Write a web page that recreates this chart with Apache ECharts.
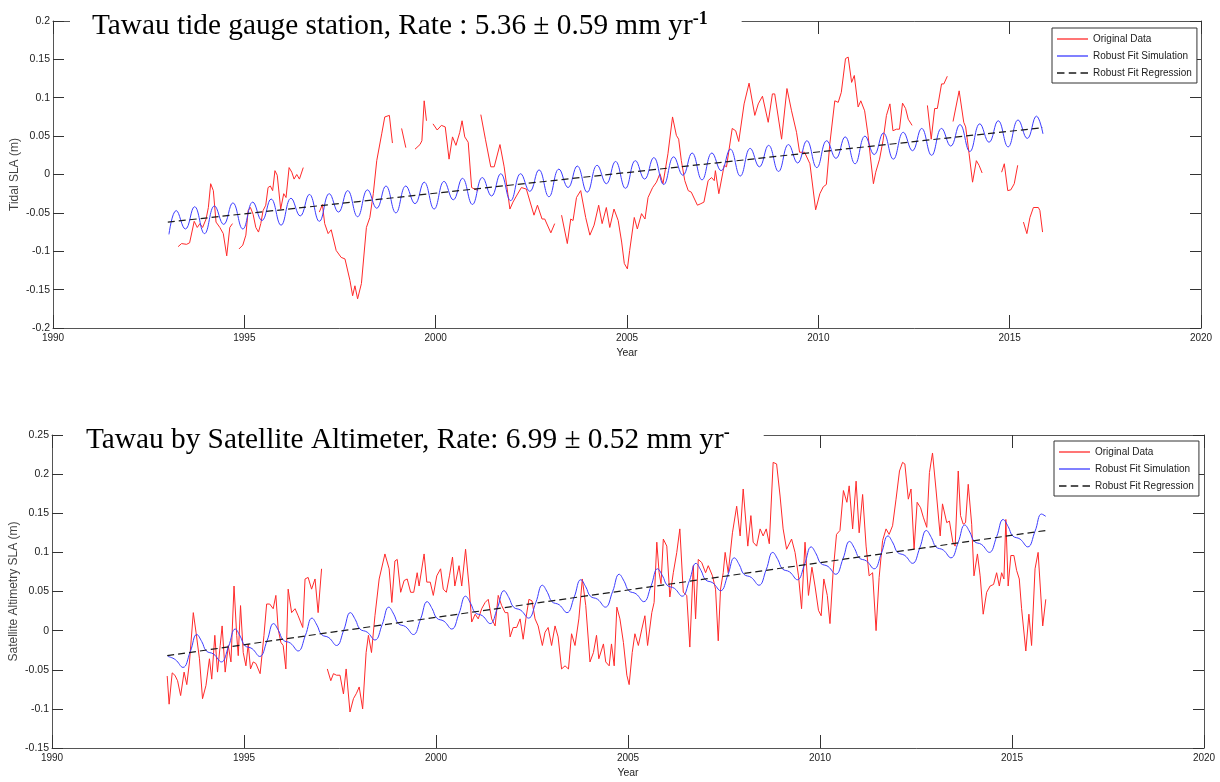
<!DOCTYPE html>
<html>
<head>
<meta charset="utf-8">
<script src="https://cdn.jsdelivr.net/npm/echarts@6/dist/echarts.min.js"></script>
<style>
  html, body { margin: 0; padding: 0; background: #fff; }
  #chart { width: 1220px; height: 782px; }
</style>
</head>
<body>
<div id="chart"></div>
<script>
// ---- Tawau sea level: tide gauge (top) and satellite altimetry (bottom) ----

const seriesNames = ['Original Data', 'Robust Fit Simulation', 'Robust Fit Regression'];
const yearTicks = { min: 1990, max: 2020, step: 5 };
const tideRange = { min: -0.2, max: 0.2, step: 0.05 };
const altRange = { min: -0.15, max: 0.25, step: 0.05 };

// Tide gauge monthly SLA (m); null marks missing records
const tideObserved = [
  [1993.01, -0.110], null,
  [1993.13, -0.100], null,
  [1993.27, -0.094], [1993.36, -0.090], [1993.49, -0.091], [1993.57, -0.089], [1993.69, -0.061],
  [1993.77, -0.069], [1993.84, -0.064], [1993.91, -0.069], [1994.00, -0.058], [1994.06, -0.043],
  [1994.12, -0.012], [1994.19, -0.021], [1994.26, -0.062], [1994.36, -0.069], [1994.45, -0.077],
  [1994.54, -0.106], [1994.62, -0.069], [1994.69, -0.064], null,
  [1994.86, -0.097], [1994.96, -0.092], [1995.04, -0.079], [1995.10, -0.047], [1995.16, -0.043],
  [1995.23, -0.052], [1995.30, -0.069], [1995.37, -0.075], [1995.43, -0.064], [1995.49, -0.047],
  [1995.56, -0.040], [1995.62, -0.017], [1995.68, -0.015], [1995.74, -0.021], [1995.80, 0.005],
  [1995.86, -0.001], [1995.95, -0.045], [1996.03, -0.025], [1996.09, -0.030], [1996.17, 0.009],
  [1996.24, 0.003], [1996.30, -0.006], [1996.37, 0.000], [1996.44, -0.006], [1996.54, 0.009], null,
  [1996.96, -0.049], [1997.04, -0.039], [1997.10, -0.064], [1997.19, -0.077], [1997.27, -0.072],
  [1997.40, -0.099], [1997.53, -0.108], [1997.63, -0.110], [1997.76, -0.138], [1997.83, -0.158],
  [1997.89, -0.145], [1997.96, -0.162], [1998.06, -0.142], [1998.19, -0.069], [1998.28, -0.056],
  [1998.37, -0.025], [1998.46, 0.018], [1998.59, 0.053], [1998.67, 0.075], [1998.79, 0.077],
  [1998.87, 0.041], null,
  [1999.11, 0.060], [1999.22, 0.035], null,
  [1999.46, 0.033], [1999.59, 0.039], [1999.64, 0.044], [1999.70, 0.096], [1999.76, 0.070], null,
  [1999.93, 0.066], [2000.04, 0.058], [2000.15, 0.064], [2000.25, 0.062], [2000.35, 0.020],
  [2000.44, 0.049], [2000.53, 0.038], [2000.63, 0.055], [2000.69, 0.070], [2000.76, 0.049],
  [2000.85, 0.042], [2000.94, -0.017], [2001.02, -0.019], [2001.11, -0.021], null,
  [2001.18, 0.078], [2001.30, 0.046], [2001.44, 0.010], [2001.53, 0.010], [2001.68, 0.039],
  [2001.79, 0.010], [2001.94, -0.045], [2002.02, -0.036], [2002.11, -0.028], [2002.24, -0.017],
  [2002.37, -0.019], [2002.57, -0.053], [2002.66, -0.040], [2002.78, -0.058], [2002.85, -0.058],
  [2003.01, -0.076], [2003.11, -0.064], null,
  [2003.29, -0.053], [2003.44, -0.090], [2003.53, -0.058], [2003.59, -0.060], [2003.68, -0.030],
  [2003.79, -0.021], [2003.92, -0.056], [2004.03, -0.079], [2004.14, -0.066], [2004.26, -0.040],
  [2004.35, -0.064], [2004.46, -0.043], [2004.55, -0.069], [2004.66, -0.045], [2004.77, -0.060],
  [2004.86, -0.088], [2004.93, -0.116], [2005.01, -0.123], [2005.07, -0.099], [2005.19, -0.056],
  [2005.27, -0.071], [2005.38, -0.051], [2005.47, -0.058], [2005.55, -0.030], [2005.67, -0.017],
  [2005.77, -0.010], [2005.86, 0.001], [2005.94, -0.012], [2006.07, 0.027], [2006.19, 0.075],
  [2006.29, 0.051], [2006.35, 0.046], [2006.42, 0.018], [2006.51, -0.008], [2006.60, -0.021],
  [2006.68, -0.023], [2006.84, -0.040], [2006.93, -0.038], [2007.01, -0.036], [2007.12, -0.008],
  [2007.21, -0.004], [2007.28, -0.008], [2007.31, 0.005], [2007.40, -0.025], [2007.44, -0.027],
  [2007.54, 0.012], [2007.60, 0.010], [2007.75, 0.060], [2007.84, 0.057], [2007.92, 0.043],
  [2008.06, 0.092], [2008.19, 0.119], [2008.34, 0.077], [2008.43, 0.092], [2008.54, 0.102],
  [2008.69, 0.068], [2008.80, 0.105], [2008.86, 0.105], [2009.04, 0.046], [2009.18, 0.112],
  [2009.30, 0.083], [2009.43, 0.055], [2009.51, 0.029], [2009.64, 0.029], [2009.78, 0.014],
  [2009.93, -0.046], [2010.04, -0.025], [2010.13, -0.016], [2010.21, -0.013], [2010.30, 0.040],
  [2010.43, 0.096], [2010.52, 0.094], [2010.60, 0.107], [2010.71, 0.151], [2010.78, 0.153],
  [2010.87, 0.120], [2010.94, 0.129], [2011.04, 0.088], [2011.11, 0.096], [2011.21, 0.083],
  [2011.30, 0.051], [2011.36, 0.023], [2011.44, -0.012], [2011.50, 0.003], [2011.60, 0.020],
  [2011.69, 0.044], [2011.78, 0.077], [2011.87, 0.092], [2011.95, 0.057], [2012.04, 0.059],
  [2012.12, 0.059], [2012.20, 0.093], [2012.28, 0.086], [2012.35, 0.072], [2012.45, 0.064], null,
  [2012.85, 0.090], [2012.95, 0.046], [2013.04, 0.086], [2013.11, 0.086], [2013.22, 0.118],
  [2013.28, 0.118], [2013.37, 0.128], null,
  [2013.52, 0.069], [2013.68, 0.109], [2013.80, 0.068], [2013.85, 0.062], [2013.94, 0.027],
  [2014.03, -0.010], [2014.13, 0.018], [2014.20, 0.012], [2014.28, 0.002], null,
  [2014.79, 0.003], [2014.86, 0.014], [2014.95, -0.021], [2015.03, -0.020], [2015.12, -0.012],
  [2015.21, 0.012], null,
  [2015.36, -0.062], [2015.45, -0.077], [2015.53, -0.056], [2015.62, -0.043], [2015.75, -0.043],
  [2015.79, -0.047], [2015.86, -0.075]
];

// Tide gauge robust fit (trend + seasonal cycle), turning points
const tideFit = [
  [1993.03, -0.078],
  [1993.22, -0.047], [1993.46, -0.071], [1993.70, -0.042], [1993.96, -0.077],
  [1994.22, -0.041], [1994.46, -0.065], [1994.70, -0.037], [1994.96, -0.071],
  [1995.22, -0.036], [1995.46, -0.060], [1995.70, -0.032], [1995.96, -0.066],
  [1996.22, -0.031], [1996.46, -0.054], [1996.70, -0.026], [1996.96, -0.061],
  [1997.22, -0.025], [1997.46, -0.049], [1997.70, -0.021], [1997.96, -0.055],
  [1998.22, -0.020], [1998.46, -0.044], [1998.70, -0.015], [1998.96, -0.050],
  [1999.22, -0.015], [1999.46, -0.038], [1999.70, -0.010], [1999.96, -0.045],
  [2000.22, -0.009], [2000.46, -0.033], [2000.70, -0.005], [2000.96, -0.039],
  [2001.22, -0.004], [2001.46, -0.028], [2001.70, 0.001], [2001.96, -0.034],
  [2002.22, 0.001], [2002.46, -0.022], [2002.70, 0.006], [2002.96, -0.029],
  [2003.22, 0.007], [2003.46, -0.017], [2003.70, 0.011], [2003.96, -0.023],
  [2004.22, 0.012], [2004.46, -0.012], [2004.70, 0.017], [2004.96, -0.018],
  [2005.22, 0.018], [2005.46, -0.006], [2005.70, 0.022], [2005.96, -0.013],
  [2006.22, 0.023], [2006.46, -0.001], [2006.70, 0.028], [2006.96, -0.007],
  [2007.22, 0.028], [2007.46, 0.005], [2007.70, 0.033], [2007.96, -0.002],
  [2008.22, 0.034], [2008.46, 0.010], [2008.70, 0.038], [2008.96, 0.004],
  [2009.22, 0.039], [2009.46, 0.015], [2009.70, 0.044], [2009.96, 0.009],
  [2010.22, 0.044], [2010.46, 0.021], [2010.70, 0.049], [2010.96, 0.014],
  [2011.22, 0.050], [2011.46, 0.026], [2011.70, 0.054], [2011.96, 0.020],
  [2012.22, 0.055], [2012.46, 0.031], [2012.70, 0.060], [2012.96, 0.025],
  [2013.22, 0.060], [2013.46, 0.037], [2013.70, 0.065], [2013.96, 0.030],
  [2014.22, 0.066], [2014.46, 0.042], [2014.70, 0.070], [2014.96, 0.036],
  [2015.22, 0.071], [2015.46, 0.047], [2015.70, 0.076], [2015.87, 0.053]
];

// Tide gauge linear trend, 5.36 mm/yr
const tideTrend = [[1993.0, -0.062], [2015.87, 0.061]];

// Satellite altimetry monthly SLA (m)
const altObserved = [
  [1993.00, -0.058], [1993.05, -0.094], [1993.13, -0.054], [1993.20, -0.057], [1993.27, -0.064],
  [1993.35, -0.083], [1993.44, -0.053], [1993.51, -0.069], [1993.58, -0.040], [1993.68, 0.023],
  [1993.75, -0.002], [1993.84, -0.036], [1993.92, -0.087], [1994.01, -0.070], [1994.10, -0.036],
  [1994.16, -0.062], [1994.24, -0.006], [1994.31, -0.053], [1994.38, -0.019], [1994.43, 0.006],
  [1994.51, -0.053], [1994.59, -0.019], [1994.66, -0.040], [1994.74, 0.057], [1994.81, -0.006],
  [1994.85, -0.032], [1994.91, 0.032], [1994.98, -0.028], [1995.05, -0.045], [1995.11, -0.017],
  [1995.17, -0.049], [1995.24, -0.040], [1995.31, -0.042], [1995.42, -0.055], [1995.52, -0.006],
  [1995.59, 0.034], [1995.67, 0.034], [1995.76, 0.028], [1995.83, 0.045], [1995.89, 0.002],
  [1995.96, -0.015], [1996.02, -0.019], [1996.09, -0.049], [1996.15, 0.053], [1996.24, 0.023],
  [1996.33, 0.028], [1996.41, 0.019], [1996.53, 0.004], [1996.59, 0.066], [1996.67, 0.068],
  [1996.76, 0.053], [1996.85, 0.066], [1996.93, 0.023], [1997.02, 0.079], null,
  [1997.17, -0.049], [1997.26, -0.064], [1997.33, -0.055], [1997.41, -0.057], [1997.50, -0.057],
  [1997.59, -0.081], [1997.66, -0.049], [1997.76, -0.104], [1997.85, -0.087], [1997.93, -0.080],
  [1998.00, -0.072], [1998.09, -0.100], [1998.18, -0.028], [1998.24, -0.006], [1998.32, -0.028],
  [1998.41, 0.019], [1998.52, 0.066], [1998.67, 0.098], [1998.78, 0.079], [1998.85, 0.036],
  [1998.93, 0.089], [1998.99, 0.091], [1999.08, 0.049], [1999.17, 0.064], [1999.25, 0.066],
  [1999.34, 0.049], [1999.42, 0.049], [1999.51, 0.074], [1999.56, 0.057], [1999.69, 0.098],
  [1999.76, 0.062], [1999.85, 0.062], [1999.93, 0.045], [2000.02, 0.070], [2000.12, 0.079],
  [2000.19, 0.053], [2000.27, 0.049], [2000.35, 0.070], [2000.43, 0.094], [2000.49, 0.057],
  [2000.60, 0.083], [2000.67, 0.057], [2000.77, 0.104], [2000.86, 0.057], [2000.93, 0.011],
  [2001.02, 0.021], [2001.10, 0.015], [2001.19, 0.028], [2001.28, 0.036], [2001.36, 0.040],
  [2001.45, 0.015], [2001.54, 0.006], [2001.62, 0.045], [2001.71, 0.032], [2001.80, 0.023],
  [2001.87, 0.023], [2001.93, -0.008], [2002.01, 0.004], [2002.10, 0.004], [2002.19, 0.015],
  [2002.27, -0.011], [2002.34, 0.015], [2002.42, 0.040], [2002.50, 0.038], [2002.58, 0.015],
  [2002.66, 0.006], [2002.77, -0.019], [2002.84, -0.002], [2002.92, 0.004], [2003.01, -0.019],
  [2003.10, 0.006], [2003.18, -0.008], [2003.27, -0.049], [2003.36, -0.045], [2003.45, -0.049],
  [2003.53, -0.004], [2003.62, -0.019], [2003.72, 0.015], [2003.81, 0.066], [2003.90, 0.032],
  [2004.01, -0.040], [2004.10, -0.028], [2004.18, -0.006], [2004.24, -0.036], [2004.36, -0.017],
  [2004.42, -0.040], [2004.51, -0.045], [2004.57, -0.017], [2004.64, -0.045], [2004.71, 0.030],
  [2004.79, 0.015], [2004.88, -0.015], [2004.97, -0.057], [2005.03, -0.069], [2005.11, -0.028],
  [2005.18, -0.004], [2005.27, -0.019], [2005.36, 0.002], [2005.44, 0.019], [2005.51, -0.019],
  [2005.62, 0.023], [2005.68, 0.036], [2005.75, 0.113], [2005.81, 0.074], [2005.86, 0.060],
  [2005.92, 0.117], [2006.01, 0.108], [2006.09, 0.043], [2006.18, 0.074], [2006.27, 0.100],
  [2006.35, 0.130], [2006.44, 0.049], [2006.53, 0.045], [2006.61, -0.021], [2006.70, 0.083],
  [2006.76, 0.015], [2006.83, 0.091], [2006.92, 0.087], [2007.02, 0.074], [2007.09, 0.083],
  [2007.20, 0.070], [2007.28, 0.053], [2007.35, -0.013], [2007.41, 0.053], [2007.48, 0.074],
  [2007.53, 0.100], [2007.61, 0.074], [2007.72, 0.125], [2007.83, 0.159], [2007.92, 0.121],
  [2008.00, 0.181], [2008.12, 0.108], [2008.20, 0.147], [2008.26, 0.113], [2008.35, 0.108],
  [2008.44, 0.130], [2008.52, 0.121], [2008.60, 0.130], [2008.68, 0.111], [2008.78, 0.215],
  [2008.87, 0.213], [2008.96, 0.172], [2009.04, 0.130], [2009.13, 0.104], [2009.26, 0.117],
  [2009.35, 0.100], [2009.44, 0.070], [2009.52, 0.028], [2009.61, 0.113], [2009.70, 0.045],
  [2009.79, 0.081], [2009.87, 0.057], [2009.96, 0.026], [2010.03, 0.019], [2010.10, 0.066],
  [2010.19, 0.045], [2010.26, 0.009], [2010.34, 0.074], [2010.43, 0.123], [2010.52, 0.128],
  [2010.61, 0.179], [2010.70, 0.164], [2010.76, 0.185], [2010.85, 0.130], [2010.94, 0.191],
  [2011.02, 0.125], [2011.11, 0.174], [2011.20, 0.108], [2011.28, 0.070], [2011.37, 0.074],
  [2011.46, 0.000], [2011.54, 0.068], [2011.63, 0.115], [2011.72, 0.130], [2011.80, 0.123],
  [2011.89, 0.134], [2011.98, 0.168], [2012.07, 0.204], [2012.15, 0.215], [2012.21, 0.213],
  [2012.30, 0.168], [2012.37, 0.181], [2012.45, 0.104], [2012.53, 0.164], [2012.62, 0.157],
  [2012.69, 0.145], [2012.78, 0.132], [2012.85, 0.202], [2012.93, 0.227], [2013.02, 0.181],
  [2013.13, 0.121], [2013.19, 0.162], [2013.30, 0.138], [2013.37, 0.140], [2013.46, 0.113],
  [2013.52, 0.108], [2013.60, 0.204], [2013.66, 0.147], [2013.73, 0.136], [2013.79, 0.138],
  [2013.86, 0.187], [2013.95, 0.136], [2014.01, 0.070], [2014.10, 0.098], [2014.17, 0.070],
  [2014.25, 0.021], [2014.34, 0.049], [2014.43, 0.057], [2014.52, 0.059], [2014.60, 0.074],
  [2014.67, 0.057], [2014.73, 0.074], [2014.79, 0.066], [2014.84, 0.142], [2014.90, 0.057],
  [2014.97, 0.096], [2015.05, 0.096], [2015.12, 0.077], [2015.19, 0.066], [2015.25, 0.028],
  [2015.36, -0.026], [2015.44, 0.021], [2015.51, -0.019], [2015.60, 0.079], [2015.68, 0.100],
  [2015.80, 0.006], [2015.88, 0.040]
];

// Altimetry robust fit (trend + seasonal cycle), six points per year
const altFit = [
  [1993.02, -0.033], [1993.21, -0.037], [1993.41, -0.047], [1993.60, -0.027], [1993.77, -0.005], [1993.90, -0.014],
  [1994.02, -0.026], [1994.21, -0.030], [1994.41, -0.040], [1994.60, -0.020], [1994.77, 0.002], [1994.90, -0.007],
  [1995.02, -0.019], [1995.21, -0.023], [1995.41, -0.033], [1995.60, -0.013], [1995.77, 0.009], [1995.90, 0.000],
  [1996.02, -0.012], [1996.21, -0.016], [1996.41, -0.026], [1996.60, -0.006], [1996.77, 0.016], [1996.90, 0.007],
  [1997.02, -0.005], [1997.21, -0.009], [1997.41, -0.019], [1997.60, 0.001], [1997.77, 0.023], [1997.90, 0.014],
  [1998.02, 0.002], [1998.21, -0.002], [1998.41, -0.012], [1998.60, 0.008], [1998.77, 0.030], [1998.90, 0.021],
  [1999.02, 0.009], [1999.21, 0.005], [1999.41, -0.005], [1999.60, 0.015], [1999.77, 0.037], [1999.90, 0.028],
  [2000.02, 0.016], [2000.21, 0.012], [2000.41, 0.002], [2000.60, 0.022], [2000.77, 0.044], [2000.90, 0.035],
  [2001.02, 0.023], [2001.21, 0.019], [2001.41, 0.009], [2001.60, 0.029], [2001.77, 0.051], [2001.90, 0.042],
  [2002.02, 0.030], [2002.21, 0.026], [2002.41, 0.016], [2002.60, 0.036], [2002.77, 0.058], [2002.90, 0.049],
  [2003.02, 0.037], [2003.21, 0.033], [2003.41, 0.023], [2003.60, 0.043], [2003.77, 0.065], [2003.90, 0.056],
  [2004.02, 0.044], [2004.21, 0.040], [2004.41, 0.030], [2004.60, 0.050], [2004.77, 0.072], [2004.90, 0.063],
  [2005.02, 0.051], [2005.21, 0.047], [2005.41, 0.037], [2005.60, 0.057], [2005.77, 0.079], [2005.90, 0.070],
  [2006.02, 0.058], [2006.21, 0.054], [2006.41, 0.044], [2006.60, 0.064], [2006.77, 0.086], [2006.90, 0.077],
  [2007.02, 0.065], [2007.21, 0.061], [2007.41, 0.051], [2007.60, 0.071], [2007.77, 0.093], [2007.90, 0.084],
  [2008.02, 0.072], [2008.21, 0.068], [2008.41, 0.058], [2008.60, 0.078], [2008.77, 0.100], [2008.90, 0.091],
  [2009.02, 0.079], [2009.21, 0.075], [2009.41, 0.065], [2009.60, 0.085], [2009.77, 0.107], [2009.90, 0.098],
  [2010.02, 0.086], [2010.21, 0.082], [2010.41, 0.072], [2010.60, 0.092], [2010.77, 0.114], [2010.90, 0.105],
  [2011.02, 0.093], [2011.21, 0.089], [2011.41, 0.079], [2011.60, 0.099], [2011.77, 0.121], [2011.90, 0.112],
  [2012.02, 0.100], [2012.21, 0.096], [2012.41, 0.086], [2012.60, 0.106], [2012.77, 0.128], [2012.90, 0.119],
  [2013.02, 0.107], [2013.21, 0.103], [2013.41, 0.093], [2013.60, 0.113], [2013.77, 0.135], [2013.90, 0.126],
  [2014.02, 0.114], [2014.21, 0.110], [2014.41, 0.100], [2014.60, 0.120], [2014.77, 0.142], [2014.90, 0.133],
  [2015.02, 0.121], [2015.21, 0.117], [2015.41, 0.107], [2015.60, 0.127], [2015.77, 0.149], [2015.88, 0.146]
];

// Altimetry linear trend, 6.99 mm/yr
const altTrend = [[1993.0, -0.032], [2015.88, 0.128]];

// ---------------------------------------------------------------------------
const SANS = '"Liberation Sans", Arial, sans-serif';
const SERIF = '"Liberation Serif", "Times New Roman", serif';
const RED = '#ff2a2a';
const BLUE = '#3c3cff';
const TREND = '#1a1a1a';

// legend glyphs: a solid stroke and a dashed stroke
const SOLID_ICON = 'path://M0,0h31v1.3h-31z';
const DASH_ICON = 'path://M0,0h7v1.3h-7z M11,0h7v1.3h-7z M22,0h7v1.3h-7z';

const withGaps = rows => rows.map(r => (r === null ? ['-', '-'] : r));
const fmtY = v => String(+v.toFixed(2));

function xAxes(gridIndex) {
  const base = {
    type: 'value', gridIndex,
    min: yearTicks.min, max: yearTicks.max, interval: yearTicks.step,
    axisLine: { onZero: false, lineStyle: { color: '#555', width: 1 } },
    axisTick: { inside: true, length: 13, lineStyle: { color: '#333', width: 1 } },
    splitLine: { show: false }
  };
  return [
    Object.assign({}, base, {
      position: 'bottom',
      name: 'Year', nameLocation: 'middle', nameGap: 20, nameMoveOverlap: false,
      nameTextStyle: { fontFamily: SANS, fontSize: 10.5, color: '#222' },
      axisLabel: { margin: 5, fontFamily: SANS, fontSize: 10, color: '#222', formatter: v => String(v) }
    }),
    Object.assign({}, base, { position: 'top', axisLabel: { show: false } })
  ];
}

function yAxes(gridIndex, range, title) {
  const base = {
    type: 'value', gridIndex,
    min: range.min, max: range.max, interval: range.step,
    axisLine: { onZero: false, lineStyle: { color: '#555', width: 1 } },
    axisTick: { inside: true, length: 11, lineStyle: { color: '#333', width: 1 } },
    splitLine: { show: false }
  };
  return [
    Object.assign({}, base, {
      position: 'left',
      name: title, nameLocation: 'middle', nameGap: 32, nameMoveOverlap: false,
      nameTextStyle: { fontFamily: SANS, fontSize: 12, color: '#444' },
      axisLabel: { margin: 3, fontFamily: SANS, fontSize: 10.5, color: '#222', formatter: fmtY }
    }),
    Object.assign({}, base, { position: 'right', axisLabel: { show: false } })
  ];
}

function plotSeries(xi, yi, observed, fit, trend) {
  return [
    {
      name: seriesNames[0], type: 'line', xAxisIndex: xi, yAxisIndex: yi,
      data: withGaps(observed), symbol: 'none', connectNulls: false,
      lineStyle: { color: RED, width: 1 }, itemStyle: { color: RED }, z: 2
    },
    {
      name: seriesNames[1], type: 'line', xAxisIndex: xi, yAxisIndex: yi,
      data: fit, symbol: 'none', smooth: 0.45,
      lineStyle: { color: BLUE, width: 1 }, itemStyle: { color: BLUE }, z: 3
    },
    {
      name: seriesNames[2], type: 'line', xAxisIndex: xi, yAxisIndex: yi,
      data: trend, symbol: 'none',
      lineStyle: { color: TREND, width: 1.2, type: [7, 4] }, itemStyle: { color: TREND }, z: 4
    }
  ];
}

function legendBox(left, top) {
  return {
    orient: 'vertical', left, top,
    data: [
      { name: seriesNames[0], icon: SOLID_ICON, itemStyle: { color: RED } },
      { name: seriesNames[1], icon: SOLID_ICON, itemStyle: { color: BLUE } },
      { name: seriesNames[2], icon: DASH_ICON, itemStyle: { color: TREND } }
    ],
    itemWidth: 31, itemHeight: 12, itemGap: 7,
    padding: [6, 5, 5, 5],
    borderColor: '#333', borderWidth: 1, backgroundColor: '#fff',
    selectedMode: false,
    textStyle: { fontFamily: SANS, fontSize: 10, color: '#222' }
  };
}

function heading(text, sup, left, top, padRight, padLeft) {
  return {
    text: '{t|' + text + '}{s|' + sup + '}',
    left, top,
    padding: [6, padRight, 4, padLeft],
    backgroundColor: '#fff',
    textStyle: {
      fontWeight: 'normal',
      rich: {
        t: { fontFamily: SERIF, fontSize: 29.3, fontWeight: 'normal', color: '#000', lineHeight: 32 },
        s: { fontFamily: SERIF, fontSize: 18, fontWeight: 'bold', color: '#000', verticalAlign: 'top', lineHeight: 20 }
      }
    }
  };
}

const chart = echarts.init(document.getElementById('chart'), null, { renderer: 'canvas' });
chart.setOption({
  animation: false,
  backgroundColor: '#fff',
  title: [
    heading('Tawau tide gauge station, Rate : 5.36 \u00b1 0.59 mm yr', '-1', 70, 4, 34, 22),
    heading('Tawau by Satellite Altimeter, Rate: 6.99 \u00b1 0.52 mm yr', '-', 63, 418, 34, 23)
  ],
  legend: [legendBox(1052, 28), legendBox(1054, 441)],
  grid: [
    { left: 53, top: 21, width: 1148, height: 307, containLabel: false, outerBoundsMode: 'none' },
    { left: 52, top: 435, width: 1152, height: 313, containLabel: false, outerBoundsMode: 'none' }
  ],
  xAxis: [].concat(xAxes(0), xAxes(1)),
  yAxis: [].concat(
    yAxes(0, tideRange, 'Tidal SLA (m)'),
    yAxes(1, altRange, 'Satellite Altimetry SLA (m)')
  ),
  series: [].concat(
    plotSeries(0, 0, tideObserved, tideFit, tideTrend),
    plotSeries(2, 2, altObserved, altFit, altTrend)
  )
});
</script>
</body>
</html>
